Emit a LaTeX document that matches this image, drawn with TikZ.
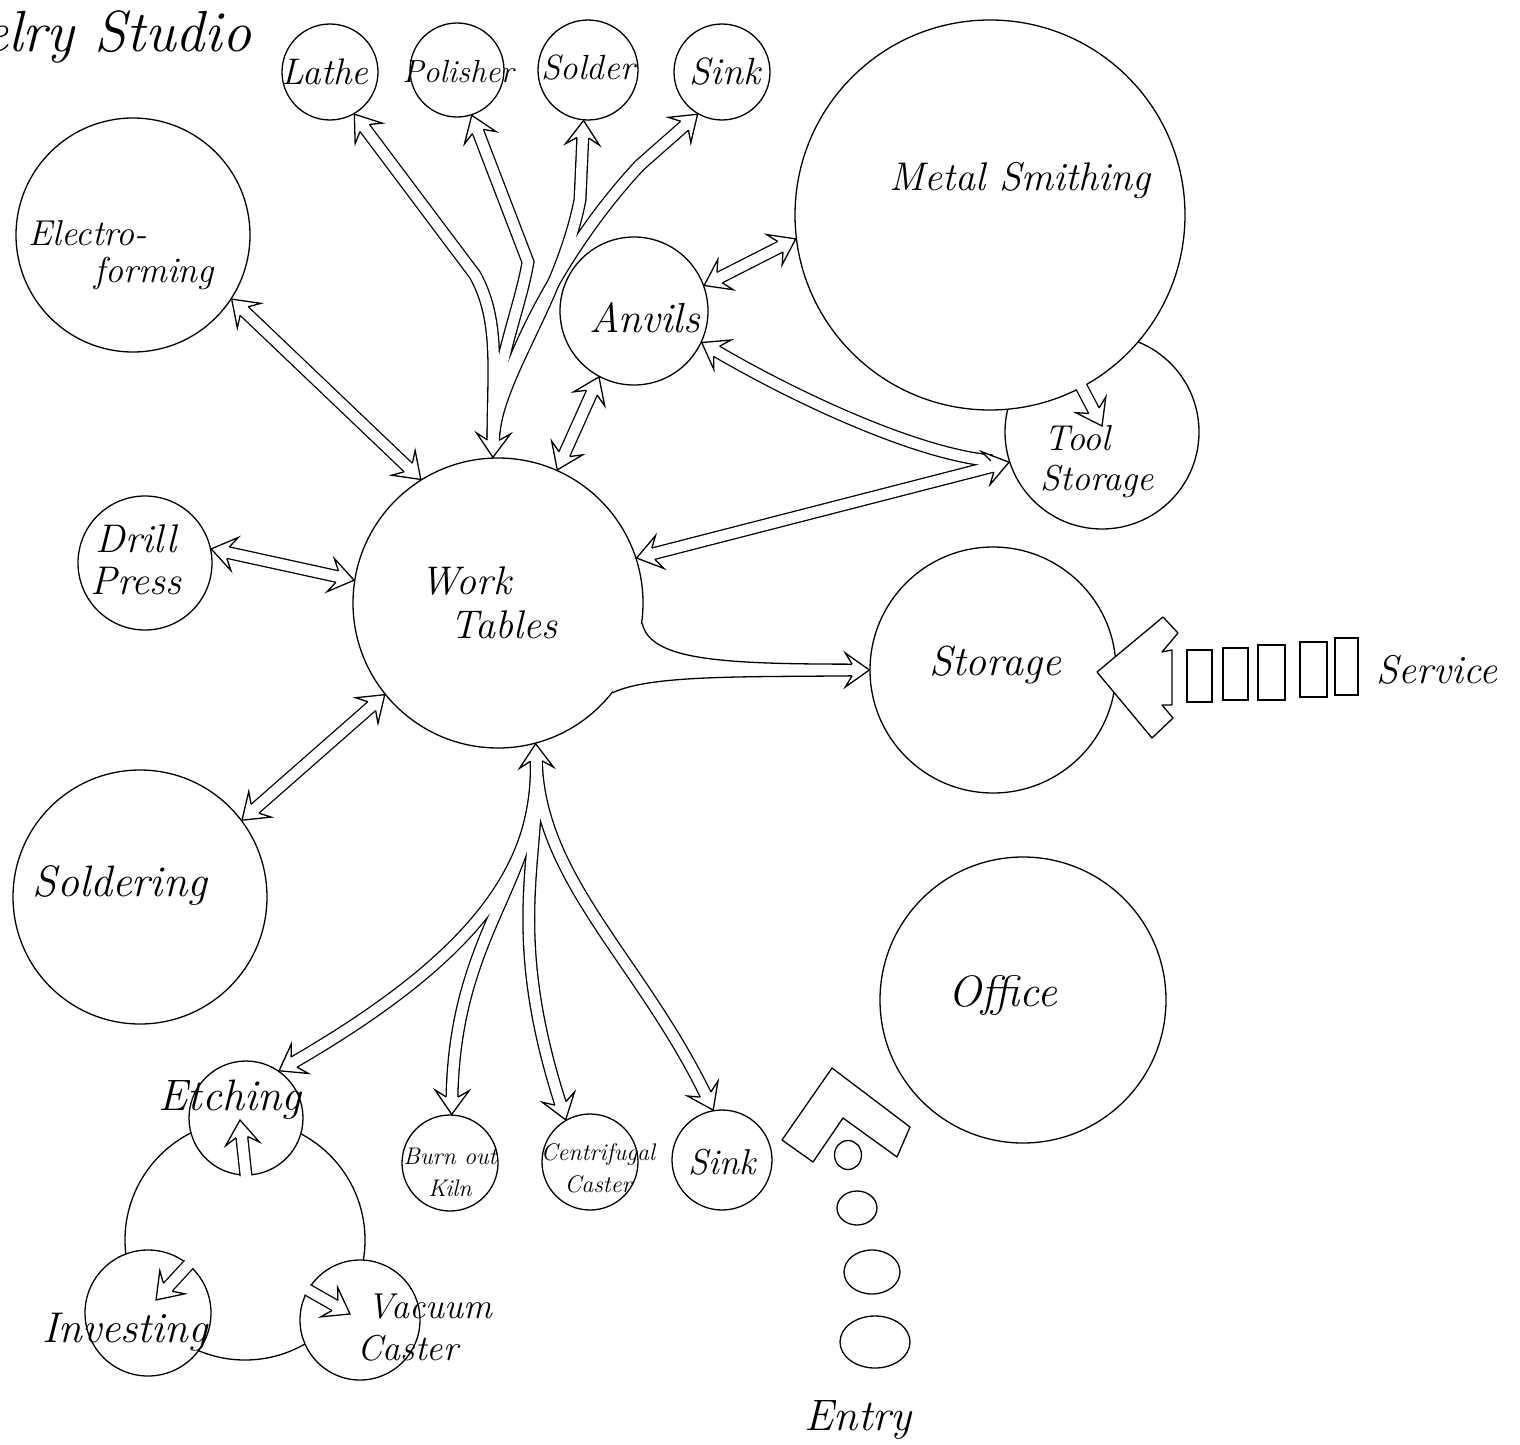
\documentclass[tikz,border=0pt]{standalone}
\usepackage{fontspec}
\usetikzlibrary{decorations.markings,calc,shapes.geometric}

\newcommand\hw[2]{\fontsize{#1}{#2}\selectfont\itshape}
\newcommand\hheadE{%
  \fill[white] (0pt,0pt) -- (-24pt,17pt) -- (-17.3pt,5.85pt) -- (-17.3pt,-5.85pt) -- (-24pt,-17pt) -- cycle;
  \draw[black, line width=1.3pt, line join=miter] (-17.3pt,5.85pt) -- (-24pt,17pt) -- (0pt,0pt) -- (-24pt,-17pt) -- (-17.3pt,-5.85pt);}
\newcommand\hheadS{%
  \fill[white] (0pt,0pt) -- (24pt,17pt) -- (17.3pt,5.85pt) -- (17.3pt,-5.85pt) -- (24pt,-17pt) -- cycle;
  \draw[black, line width=1.3pt, line join=miter] (17.3pt,5.85pt) -- (24pt,17pt) -- (0pt,0pt) -- (24pt,-17pt) -- (17.3pt,-5.85pt);}

\tikzset{
  bubble/.style={circle, draw, fill=white, inner sep=0pt, line width=1.3pt},
  lbl/.style={inner sep=0pt, font={\hw{40}{44}}},
  shb/.style={draw=black, line width=13pt, line cap=butt},
  shw/.style={draw=white, line width=10.4pt, line cap=butt},
  headE/.style={postaction={decorate, decoration={markings, mark=at position 0.9999 with {\hheadE}}}},
  headS/.style={postaction={decorate, decoration={markings, mark=at position 0.0001 with {\hheadS}}}},
  plain/.style={draw, line width=1.3pt, line join=round},
  both ends/.style={shorten <=17pt, shorten >=17pt},
}
\newcommand\twoway[1]{%
  \draw[shb, both ends] #1;
  \draw[shw, both ends] #1;
  \path[headE, headS] #1;}
\newcommand\pod[1]{%
  \draw[shb, shorten >=17pt] #1;
  \draw[shw, shorten <=-2.5pt, shorten >=17pt] #1;
  \path[headE] #1;}

% top tree branches
\newcommand\brLathe[1]{\path[#1] (wt.92) .. controls (493,370) and (500,320) .. (475,275) -- (lathe.-60);}
\newcommand\brPol[1]{\path[#1] (wt.92) .. controls (493,370) and (520,310) .. (528,262) -- (polisher.-72);}
\newcommand\brSol[1]{\path[#1] (wt.92) .. controls (495,380) and (560,300) .. (580,200) -- (solder.-95);}
\newcommand\brSink[1]{\path[#1] (wt.92) .. controls (495,380) and (560,250) .. (640,165) -- (sinkA.-120);}
% bottom tree branches
\newcommand\brEtch[1]{\path[#1] (wt.-75) .. controls (540,870) and (470,960) .. (etch.55);}
\newcommand\brKiln[1]{\path[#1] (wt.-75) .. controls (540,880) and (455,930) .. (kiln.88);}
\newcommand\brCent[1]{\path[#1] (wt.-75) .. controls (540,860) and (505,930) .. (cent.120);}
\newcommand\brSinkB[1]{\path[#1] (wt.-75) .. controls (540,880) and (640,960) .. (sinkB.100);}
% tool storage pair
\newcommand\brAT[1]{\path[#1] (anv.-25) .. controls (800,400) and (920,455) .. (ts.198);}
\newcommand\brWT[1]{\path[#1] (wt.18) -- (ts.198);}

\begin{document}
\begin{tikzpicture}[x=1pt, y=-1pt, line width=1.3pt]
\useasboundingbox (0,0) rectangle (1520,1445);

% cycle of the casting group
\node[bubble, fill=none, minimum size=240pt] (cyc) at (245,1240) {};

% bubbles
\node[bubble, minimum size=96pt]  (lathe)    at (330,72) {};
\node[bubble, minimum size=94pt]  (polisher) at (457,70) {};
\node[bubble, minimum size=100pt] (solder)   at (588,70) {};
\node[bubble, minimum size=96pt]  (sinkA)    at (722,72) {};
\node[bubble, minimum size=194pt] (ts)       at (1102,432) {};
\node[bubble, minimum size=390pt] (ms)       at (990,215) {};
\node[bubble, minimum size=148pt] (anv)      at (634,311) {};
\node[bubble, minimum size=234pt] (electro)  at (133,235) {};
\node[bubble, minimum size=134pt] (drill)    at (145,563) {};
\node[bubble, minimum size=290pt] (wt)       at (498,603) {};
\node[bubble, minimum size=246pt] (stor)     at (993,670) {};
\node[bubble, minimum size=254pt] (soldering) at (140,897) {};
\node[bubble, minimum size=286pt] (office)   at (1023,1000) {};
\node[bubble, minimum size=114pt] (etch)     at (246,1118) {};
\node[bubble, minimum size=126pt] (inv)      at (148,1313) {};
\node[bubble, minimum size=120pt] (vac)      at (360,1320) {};
\node[bubble, minimum size=96pt]  (kiln)     at (450,1163) {};
\node[bubble, minimum size=96pt]  (cent)     at (590,1162) {};
\node[bubble, minimum size=100pt] (sinkB)    at (722,1160) {};

% simple two-way connectors
\twoway{(electro.-33) -- (wt.122)}
\twoway{(drill.12) -- (wt.171)}
\twoway{(soldering.37) -- (wt.219)}
\twoway{(anv.242) -- (wt.66)}
\twoway{(anv.20) -- (ms.187)}

% top tree
\brLathe{shb, both ends}
\brPol{shb, both ends}
\brSol{shb, both ends}
\brSink{shb, both ends}
\brLathe{shw, both ends}
\brPol{shw, both ends}
\brSol{shw, both ends}
\brSink{shw, both ends}
\brLathe{headE}
\brPol{headE}
\brSol{headE, headS}
\brSink{headE}

% bottom tree
\brEtch{shb, both ends}
\brKiln{shb, both ends}
\brCent{shb, both ends}
\brSinkB{shb, both ends}
\brEtch{shw, both ends}
\brKiln{shw, both ends}
\brCent{shw, both ends}
\brSinkB{shw, both ends}
\brEtch{headE, headS}
\brKiln{headE}
\brCent{headE}
\brSinkB{headE}

% to tool storage
\brAT{shb, both ends}
\brWT{shb, both ends}
\brAT{shw, both ends}
\brWT{shw, both ends}
\brAT{headS}
\brWT{headS, headE}

% work tables -> storage (funnel)
\fill[white] (wt.-8) .. controls (650,660) and (720,664) .. ($(stor.180)+(-17.3,-5.85)$)
  -- ($(stor.180)+(-17.3,5.85)$) .. controls (740,677) and (650,675) .. (wt.-38)
  -- ($(wt.center)!0.85!(wt.-23)$) -- cycle;
\draw[plain] (wt.-8) .. controls (650,660) and (720,664) .. ($(stor.180)+(-17.3,-5.85)$);
\draw[plain] (wt.-38) .. controls (650,675) and (740,677) .. ($(stor.180)+(-17.3,5.85)$);
\path[headE] ($(stor.180)+(-40,0)$) -- (stor.180);

% short arrows inside bubbles
\coordinate (mstip) at (1102,426);
\coordinate (etchtip) at (240,1120);
\coordinate (invtip) at (156,1300);
\coordinate (vactip) at (350,1314);
\pod{(ms.-62) -- (mstip)}
\pod{(etch.-90) -- (etchtip)}
\pod{(inv.50) -- (invtip)}
\pod{(vac.150) -- (vactip)}

% service arrow and trucks
\filldraw[plain, fill=white] (1097,672) -- (1163,617) -- (1178,633) -- (1162,652) -- (1172,650)
  -- (1172,705) -- (1162,705) -- (1173,718) -- (1152,738) -- cycle;
\tikzset{bay/.style={draw, rectangle, inner sep=0pt, line width=1.3pt}}
\node[bay, minimum width=25pt, minimum height=52pt] (s1) at (1199.5,676) {};
\node[bay, minimum width=25pt, minimum height=52pt] (s2) at (1235.5,674) {};
\node[bay, minimum width=27pt, minimum height=55pt] (s3) at (1271.5,672.5) {};
\node[bay, minimum width=27pt, minimum height=55pt] (s4) at (1313.5,669.5) {};
\node[bay, minimum width=23pt, minimum height=57pt] (s5) at (1346.5,666.5) {};

% entry
\draw[plain] (782,1140) -- (832,1068) -- (910,1127) -- (897,1157) -- (843,1118) -- (813,1162) -- cycle;
\tikzset{step stone/.style={draw, ellipse, inner sep=0pt, line width=1.3pt}}
\node[step stone, minimum width=27pt, minimum height=29pt] (e1) at (848,1155) {};
\node[step stone, minimum width=40pt, minimum height=34pt] (e2) at (857,1208) {};
\node[step stone, minimum width=56pt, minimum height=44pt] (e3) at (872,1272) {};
\node[step stone, minimum width=70pt, minimum height=52pt] (e4) at (875,1342) {};

% labels
\node[lbl, font={\hw{58}{62}}, anchor=base east] (title) at (252,52) {Jewelry Studio};
\node[lbl, font={\hw{37}{40}}] (t-lathe) at (325,72) {Lathe};
\node[lbl, font={\hw{32}{36}}] (t-pol) at (458,72) {Polisher};
\node[lbl, font={\hw{35}{38}}] (t-sol) at (588,68) {Solder};
\node[lbl, font={\hw{38}{40}}] (t-sinkA) at (725,72) {Sink};
\node[lbl, font={\hw{40}{44}}] (t-ms) at (1020,180) {Metal Smithing};
\node[lbl, font={\hw{36}{37}}, align=left, anchor=west] (t-el) at (28,255) {Electro-\\\hspace*{66pt}forming};
\node[lbl, font={\hw{42}{44}}] (t-anv) at (645,318) {Anvils};
\node[lbl, font={\hw{36}{40}}, align=left, anchor=west] (t-ts) at (1040,462) {\hspace*{4pt}Tool\\Storage};
\node[lbl, font={\hw{40}{42}}, align=center] (t-dr) at (136,560) {Drill\\Press};
\node[lbl, font={\hw{40}{44}}, align=left, anchor=west] (t-wt) at (420,603) {Work\\\hspace*{30pt}Tables};
\node[lbl, font={\hw{42}{44}}] (t-st) at (995,665) {Storage};
\node[lbl, font={\hw{40}{44}}] (t-serv) at (1437,670) {Service};
\node[lbl, font={\hw{44}{48}}] (t-soldering) at (120,885) {Soldering};
\node[lbl, font={\hw{44}{48}}] (t-off) at (1003,995) {Office};
\node[lbl, font={\hw{44}{48}}] (t-etch) at (230,1100) {Etching};
\node[lbl, font={\hw{24}{32}}, align=center] (t-kiln) at (450,1172) {Burn out\\Kiln};
\node[lbl, font={\hw{24}{32}}, align=center] (t-cent) at (598,1168) {Centrifugal\\Caster};
\node[lbl, font={\hw{36}{40}}] (t-sinkB) at (722,1162) {Sink};
\node[lbl, font={\hw{43}{46}}] (t-inv) at (125,1332) {Investing};
\node[lbl, font={\hw{36}{42}}, align=left, anchor=west] (t-vac) at (357,1328) {\hspace*{10pt}Vacuum\\Caster};
\node[lbl, font={\hw{44}{48}}] (t-entry) at (858,1420) {Entry};
\end{tikzpicture}
\end{document}
